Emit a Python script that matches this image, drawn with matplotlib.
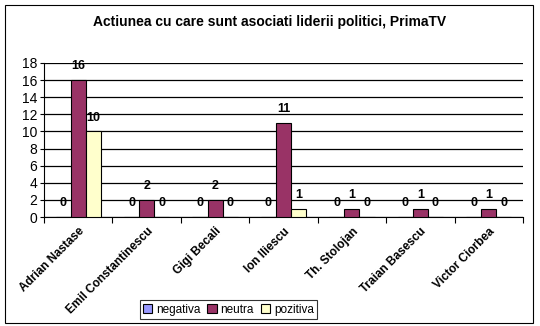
import numpy as np
import matplotlib
matplotlib.use("Agg")
import matplotlib.pyplot as plt
from matplotlib.patches import Rectangle

plt.rcParams['font.family'] = ['Liberation Sans', 'DejaVu Sans']

# data
lideri = ['Adrian Nastase', 'Emil Constantinescu', 'Gigi Becali', 'Ion Iliescu',
          'Th. Stolojan', 'Traian Basescu', 'Victor Ciorbea']
negativa = [0, 0, 0, 0, 0, 0, 0]
neutra = [16, 2, 2, 11, 1, 1, 1]
pozitiva = [10, 0, 0, 1, 0, 0, 0]

serii = ['negativa', 'neutra', 'pozitiva']
culori = ['#9999FF', '#993366', '#FFFFCC']

fig = plt.figure(figsize=(5.4, 3.26), dpi=100)
ax = fig.add_axes([0.0815, 0.334, 0.887, 0.473])

x = np.arange(len(lideri))
w = 0.22
for i, (nume, vals, c) in enumerate(zip(serii, [negativa, neutra, pozitiva], culori)):
    bars = ax.bar(x + (i - 1) * w, vals, w, color=c, edgecolor='black', linewidth=0.8,
                  label=nume, zorder=3)
    for b, v in zip(bars, vals):
        ax.annotate(str(v), (b.get_x() + b.get_width() / 2, v), xytext=(0, 10),
                    textcoords='offset points', ha='center', va='center',
                    fontsize=9, fontweight='bold')

ax.set_ylim(0, 18)
ax.set_yticks(range(0, 19, 2))
ax.set_xlim(-0.5, len(lideri) - 0.5)
ax.yaxis.grid(True, color='black', linewidth=0.9)
ax.set_axisbelow(True)
for s in ['top', 'right']:
    ax.spines[s].set_visible(False)
ax.tick_params(axis='y', labelsize=10, length=3, pad=2)

# category ticks between groups, labels at centres
ax.set_xticks(np.arange(-0.5, len(lideri), 1.0))
ax.set_xticklabels([])
ax.set_xticks(x, minor=True)
ax.set_xticklabels(lideri, minor=True, rotation=45, ha='right', rotation_mode='anchor',
                   fontsize=8.5, fontweight='bold')
ax.tick_params(axis='x', which='major', length=4, direction='out')
ax.tick_params(axis='x', which='minor', length=0, pad=6)

fig.suptitle('Actiunea cu care sunt asociati liderii politici, PrimaTV', x=0.5, y=0.955,
             fontsize=10, fontweight='bold')

leg = fig.legend(loc='center', bbox_to_anchor=(0.423, 0.05), ncol=3, fontsize=8.5,
                 frameon=True, fancybox=False, handlelength=0.8, handleheight=0.8,
                 handletextpad=0.3, columnspacing=0.6, borderpad=0.3)
leg.get_frame().set_edgecolor('black')
leg.get_frame().set_linewidth(0.8)

fig.patches.append(Rectangle((0.009, 0.01), 0.978, 0.975, transform=fig.transFigure,
                             fill=False, edgecolor='black', linewidth=0.8))

fig.savefig('out.png', dpi=100)
